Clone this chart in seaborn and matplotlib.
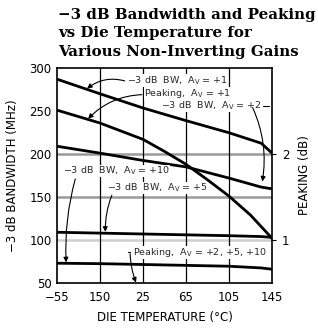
import matplotlib
matplotlib.use("Agg")
import matplotlib.pyplot as plt
import seaborn as sns
import pandas as pd

# ---- data ----
temps = [-55, -15, 25, 65, 105, 135, 145]
bw_av1 = [287, 270, 253.5, 238.8, 224.7, 212.5, 201]
bw_av2 = [209, 201, 192.5, 185, 172, 161.5, 159.5]
bw_av5 = [109, 108, 107, 106, 105, 104, 103]
bw_av10 = [73, 72.5, 71.5, 70.5, 69.5, 67.5, 66]
peak_temps = [-55, -15, 25, 45, 65, 85, 105, 125, 145]
peak_av1 = [2.51, 2.36, 2.17, 2.03, 1.88, 1.70, 1.51, 1.29, 1.02]
x_ticks = [-55, -15, 25, 65, 105, 145]
x_tick_labels = ["\u221255", "150", "25", "65", "105", "145"]
y_ticks = [50, 100, 150, 200, 250, 300]
peak_ticks = [1, 2]
peak_tick_labels = ["1", "2"]
title_lines = ["\u22123 dB Bandwidth and Peaking", "vs Die Temperature for",
               "Various Non-Inverting Gains"]

sns.set_theme(style="white")
plt.rcParams['font.family'] = ['DejaVu Sans']

fig = plt.figure(figsize=(3.18, 3.33), dpi=100)
ax = fig.add_axes([57/318, 50/333, 215/318, 215/333])

bw_df = pd.DataFrame({
    "temp": temps * 4,
    "bw": bw_av1 + bw_av2 + bw_av5 + bw_av10,
    "series": ["av1"] * len(temps) + ["av2"] * len(temps) + ["av5"] * len(temps) + ["av10"] * len(temps),
})

# grid
for v in [200, 150]:
    ax.axhline(v, color="#9a9a9a", lw=1.8, zorder=1)
ax.axhline(100, color="#cfcfcf", lw=1.8, zorder=1)
for t in x_ticks[1:-1]:
    ax.axvline(t, color="black", lw=0.9, zorder=1)

sns.lineplot(data=bw_df, x="temp", y="bw", units="series", estimator=None,
             color="black", lw=2.0, ax=ax, zorder=3)

ax.set_xlim(-55, 145)
ax.set_ylim(50, 300)
ax.set_xticks(x_ticks)
ax.set_xticklabels(x_tick_labels)
ax.set_yticks(y_ticks)
ax.tick_params(axis="both", length=0, labelsize=8.5, pad=4, colors="black")
ax.tick_params(axis="x", pad=6)
ax.set_xlabel("DIE TEMPERATURE (\u00b0C)", fontsize=8.5, labelpad=5, color="black")
ax.set_ylabel("\u22123 dB BANDWIDTH (MHz)", fontsize=8.5, labelpad=7, color="black")
for s in ax.spines.values():
    s.set_color("black")
    s.set_linewidth(1.2)

ax2 = ax.twinx()
sns.lineplot(x=peak_temps, y=peak_av1, color="black", lw=2.0, ax=ax2, zorder=3)
ax2.set_ylim(0.5, 3.0)
ax2.set_yticks(peak_ticks)
ax2.set_yticklabels(peak_tick_labels)
ax2.tick_params(axis="y", length=3, width=0.8, labelsize=8.5, pad=4, colors="black")
ax2.set_ylabel("PEAKING (dB)", fontsize=8.5, labelpad=6, color="black")
for s in ax2.spines.values():
    s.set_visible(False)

fs = 6.8
bb = dict(facecolor="white", edgecolor="none", pad=0.0)
ap = dict(arrowstyle="-|>", color="black", lw=0.8, mutation_scale=7, shrinkA=0, shrinkB=0)

def ann(text, xy, xytext, rad, tx, ty):
    ax.annotate("", xy=xy, xytext=xytext,
                arrowprops=dict(ap, connectionstyle=f"arc3,rad={rad}"), zorder=5)
    ax.text(tx, ty, text, fontsize=fs, ha="left", va="center", bbox=bb, zorder=4)

ann("\u22123 dB  BW,  A$_\\mathregular{V}$ = +1", (-27, 276), (8, 285), 0.25, 10, 285.5)
ann("Peaking,  A$_\\mathregular{V}$ = +1", (-26, 241), (24, 269), 0.2, 26, 270)
ann("\u22123 dB  BW,  A$_\\mathregular{V}$ = +2", (136, 168), (127, 254), -0.15, 42, 256)
ax.plot([137, 142.5], [255.5, 255.5], color="black", lw=0.8, zorder=5)
ann("\u22123 dB  BW,  A$_\\mathregular{V}$ = +10", (-46.5, 74), (-38, 171), 0.08, -49.5, 180)
ann("\u22123 dB  BW,  A$_\\mathregular{V}$ = +5", (-10, 109.5), (-4, 152), 0.1, -8.5, 160.5)
ann("Peaking,  A$_\\mathregular{V}$ = +2, +5, +10", (18.5, 50.5), (13, 84), 0.08, 15.5, 86)
ax.plot([11, 13], [86, 86], color="black", lw=0.8, zorder=5)

for i, line in enumerate(title_lines):
    fig.text(58/318, 1 - (15 + 18.5 * i)/333, line, fontsize=10.8, fontweight="bold",
             family="DejaVu Serif", ha="left", va="center", color="black")

fig.savefig("out.png", dpi=100)
